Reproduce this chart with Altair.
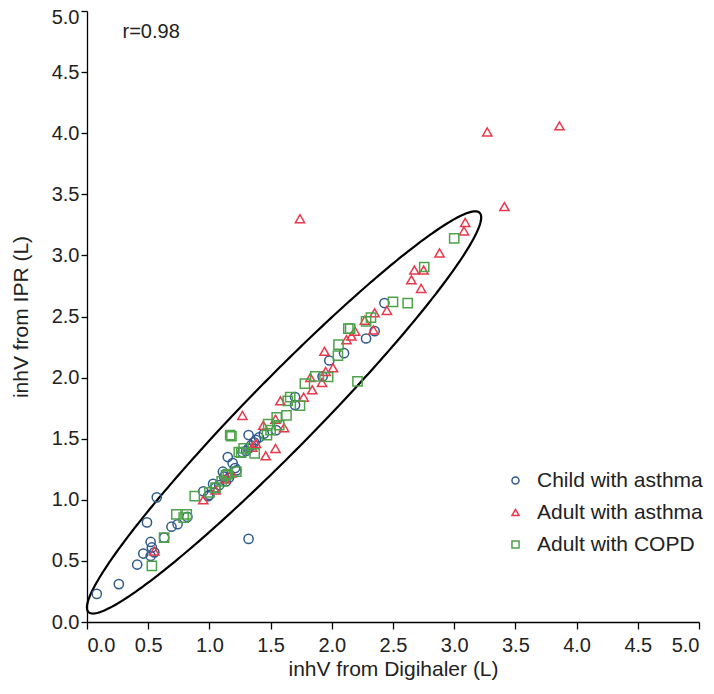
import altair as alt
import pandas as pd
import numpy as np

# ---- data ----
groups = ["Child with asthma", "Adult with asthma", "Adult with COPD"]
group_colors = ["#2f5b8c", "#e8394c", "#4ea24a"]
group_shapes = ["circle", "triangle-up", "square"]

child_x = [0.08, 0.26, 0.41, 0.46, 0.52, 0.53, 0.52, 0.55, 0.49, 0.57, 0.63, 0.69, 0.74, 0.82,
           0.95, 0.99, 1.03, 1.05, 1.11, 1.12, 1.135, 1.15, 1.19, 1.22, 1.21, 1.27, 1.30, 1.32,
           1.34, 1.365, 1.38, 1.405, 1.445, 1.32, 1.545, 1.70, 1.70, 1.925, 1.98, 2.10, 2.28,
           2.35, 2.43, 1.32, 1.00, 1.08, 1.16]
child_y = [0.23, 0.31, 0.47, 0.56, 0.54, 0.61, 0.655, 0.57, 0.815, 1.02, 0.69, 0.78, 0.80, 0.86,
           1.07, 1.03, 1.13, 1.10, 1.23, 1.19, 1.15, 1.35, 1.30, 1.24, 1.26, 1.39, 1.40, 1.42,
           1.445, 1.47, 1.49, 1.51, 1.54, 1.53, 1.57, 1.84, 1.775, 2.01, 2.14, 2.20, 2.32,
           2.38, 2.61, 0.68, 1.04, 1.12, 1.18]

adult_x = [0.55, 0.95, 1.05, 1.13, 1.18, 1.27, 1.35, 1.38, 1.46, 1.54, 1.61, 1.58, 1.54, 1.77,
           1.84, 1.825, 1.92, 1.94, 1.95, 2.01, 2.12, 2.16, 2.19, 2.27, 2.34, 2.35, 2.45, 2.65,
           2.675, 2.73, 2.75, 2.88, 3.08, 3.09, 1.74, 3.27, 3.41, 3.86, 1.44]
adult_y = [0.58, 1.00, 1.08, 1.17, 1.22, 1.69, 1.43, 1.46, 1.36, 1.42, 1.59, 1.81, 1.66, 1.84,
           1.90, 2.00, 1.96, 2.215, 2.05, 2.08, 2.31, 2.34, 2.38, 2.47, 2.39, 2.53, 2.55, 2.80,
           2.88, 2.73, 2.88, 3.02, 3.20, 3.27, 3.30, 4.01, 3.40, 4.06, 1.61]

copd_x = [0.53, 0.63, 0.73, 0.79, 0.815, 0.88, 1.00, 1.05, 1.10, 1.135, 1.15, 1.17, 1.18, 1.22,
          1.24, 1.26, 1.28, 1.37, 1.47, 1.48, 1.50, 1.55, 1.57, 1.63, 1.64, 1.66, 1.74, 1.78,
          1.865, 1.97, 2.05, 2.055, 2.135, 2.15, 2.21, 2.28, 2.32, 2.50, 2.62, 2.755, 3.00]
copd_y = [0.46, 0.69, 0.88, 0.855, 0.88, 1.03, 1.06, 1.10, 1.15, 1.20, 1.21, 1.53, 1.52, 1.23,
          1.39, 1.385, 1.42, 1.38, 1.53, 1.62, 1.57, 1.675, 1.61, 1.69, 1.81, 1.84, 1.77, 1.95,
          2.01, 2.005, 2.18, 2.27, 2.40, 2.40, 1.97, 2.46, 2.49, 2.62, 2.61, 2.905, 3.14]

tick_values = [0.0, 0.5, 1.0, 1.5, 2.0, 2.5, 3.0, 3.5, 4.0, 4.5, 5.0]

# ellipse parameters (data units)
ell_cx, ell_cy = 1.61, 1.715
ell_a, ell_b = 2.285, 0.285
ell_angle_deg = 45.64

annot_text = ["r=0.98"]
annot_x = [0.29]
annot_y = [4.828]

FONT = "Liberation Sans"

# ---- tables ----
pts = pd.DataFrame({
    "x": child_x + adult_x + copd_x,
    "y": child_y + adult_y + copd_y,
    "group": [groups[0]] * len(child_x) + [groups[1]] * len(adult_x) + [groups[2]] * len(copd_x),
})

t = np.linspace(0, 2 * np.pi, 361)
th = np.deg2rad(ell_angle_deg)
ell = pd.DataFrame({
    "x": ell_cx + ell_a * np.cos(t) * np.cos(th) - ell_b * np.sin(t) * np.sin(th),
    "y": ell_cy + ell_a * np.cos(t) * np.sin(th) + ell_b * np.sin(t) * np.cos(th),
    "i": np.arange(len(t)),
})
ann = pd.DataFrame({"text": annot_text, "x": annot_x, "y": annot_y})

xscale = alt.Scale(domain=[0, 5], nice=False, zero=False)
yscale = alt.Scale(domain=[0, 5], nice=False, zero=False)

x_axis = alt.Axis(values=tick_values, format=".1f", title="inhV from Digihaler (L)",
                  tickSize=7, labelPadding=6, titlePadding=3, grid=False)
y_axis = alt.Axis(values=tick_values, format=".1f", title="inhV from IPR (L)",
                  tickSize=6, labelPadding=2, titlePadding=20, grid=False,
                  labelOffset={"condition": {"test": "datum.value >= 5", "value": 6}, "value": 0})

ellipse = alt.Chart(ell).mark_line(color="black", strokeWidth=2.2, clip=False).encode(
    x=alt.X("x:Q", scale=xscale, axis=x_axis),
    y=alt.Y("y:Q", scale=yscale, axis=y_axis),
    order="i:Q",
)

leg = alt.Legend(title=None, orient="none", legendX=418, legendY=459, padding=0,
                 labelFontSize=21, labelFont=FONT, labelColor="#222", labelLimit=400,
                 symbolSize=50, symbolStrokeWidth=1.5, rowPadding=10, labelOffset=11)

points = alt.Chart(pts).mark_point(filled=False, strokeWidth=1.5, size=85, opacity=1).encode(
    x=alt.X("x:Q", scale=xscale),
    y=alt.Y("y:Q", scale=yscale),
    color=alt.Color("group:N", scale=alt.Scale(domain=groups, range=group_colors), legend=leg),
    shape=alt.Shape("group:N", scale=alt.Scale(domain=groups, range=group_shapes), legend=leg),
)

annot = alt.Chart(ann).mark_text(align="left", baseline="middle", fontSize=20, font=FONT,
                                 color="#222").encode(
    x=alt.X("x:Q", scale=xscale),
    y=alt.Y("y:Q", scale=yscale),
    text="text:N",
)

chart = alt.layer(ellipse, points, annot).properties(
    width=612, height=611,
    padding={"left": 79, "top": 3, "right": 7, "bottom": 59},
    autosize=alt.AutoSizeParams(type="none"),
).configure_view(stroke=None).configure_axis(
    labelFont=FONT, titleFont=FONT, labelFontSize=20, titleFontSize=21,
    titleFontWeight="normal", labelColor="#222", titleColor="#222",
    domainColor="black", tickColor="black", domainWidth=1.3, tickWidth=1.3,
)

chart.save("out.html", embed_options={"renderer": "svg", "actions": False})
